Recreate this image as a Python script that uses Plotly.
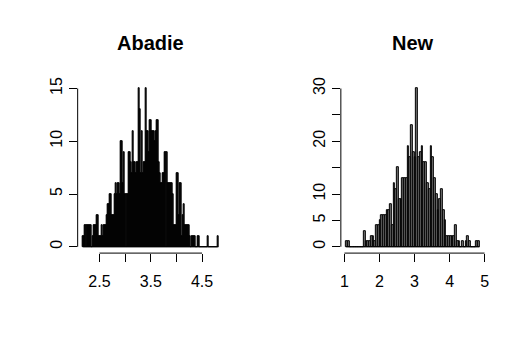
import plotly.graph_objects as go

# ---- data ----
abadie_start = 2.18
abadie_width = 0.02
abadie_counts = [
    1, 1, 2, 2, 2, 2, 2, 2, 0, 1, 2, 2, 2, 3, 3, 1, 1, 1, 2, 1,
    2, 2, 2, 3, 4, 4, 5, 5, 3, 3, 3, 5, 6, 5, 6, 6, 5, 10, 10, 6,
    9, 5, 5, 5, 9, 9, 8, 7, 11, 8, 8, 7, 8, 8, 15, 13, 7, 11, 7, 8,
    8, 15, 11, 11, 9, 12, 12, 11, 11, 11, 10, 11, 12, 12, 8, 7, 6, 6, 7, 7,
    9, 9, 6, 6, 6, 6, 6, 5, 2, 2, 2, 7, 7, 3, 6, 6, 1, 3, 4, 2,
    2, 2, 2, 2, 1, 0, 1, 1, 1, 1, 0, 0, 1, 1, 0, 0, 0, 0, 0, 0,
    0, 1, 0, 0, 0, 0, 0, 0, 0, 0, 0, 1,
]
abadie_ticks = [2.5, 3.0, 3.5, 4.0, 4.5]
abadie_ticklabels = ["2.5", "", "3.5", "", "4.5"]
abadie_yticks = [0, 5, 10, 15]
abadie_yticklabels = ["0", "5", "10", "15"]

new_start = 1.05
new_width = 0.05
new_counts = [
    1, 1, 0, 0, 0, 0, 0, 0, 0, 0,
    3, 1, 1, 1, 2, 2, 1, 4, 4,
    5, 6, 6, 6, 7, 7, 8, 4, 12, 11,
    15, 9, 9, 13, 13, 13, 19, 17, 23, 18,
    17, 30, 17, 18, 19, 16, 16, 12, 11, 19,
    17, 13, 10, 7, 9, 11, 7, 5, 2, 2,
    2, 2, 2, 4, 1, 1, 0, 1, 0, 1,
    2, 1, 0, 0, 0, 1, 1,
]
new_ticks = [1, 2, 3, 4, 5]
new_ticklabels = ["1", "2", "3", "4", "5"]
new_yticks = [0, 5, 10, 15, 20, 25, 30]
new_yticklabels = ["0", "5", "10", "", "20", "", "30"]

titles = ["Abadie", "New"]

FONT = "Liberation Sans, Arial, Helvetica, sans-serif"

def centers(start, width, counts):
    return [start + width * (i + 0.5) for i in range(len(counts))]

def ext(lo, hi):
    d = (hi - lo) * 0.04
    return [lo - d, hi + d]

fig = go.Figure()

panels = [
    (abadie_start, abadie_width, abadie_counts, abadie_ticks, abadie_ticklabels,
     abadie_yticks, abadie_yticklabels, "x", "y", "#111111"),
    (new_start, new_width, new_counts, new_ticks, new_ticklabels,
     new_yticks, new_yticklabels, "x2", "y2", "#777777"),
]

xdomains = [[77.4 / 529, 225.0 / 529], [343.1 / 529, 488.4 / 529]]
ydomain = [(350 - 251.7) / 350, (350 - 78.3) / 350]

shapes = []
annotations = []
for k, (start, width, counts, xt, xtl, yt, ytl, xa, ya, fill) in enumerate(panels):
    fig.add_trace(go.Bar(
        x=centers(start, width, counts), y=counts, width=width,
        marker=dict(color=fill, line=dict(color="black", width=1)),
        xaxis=xa, yaxis=ya, showlegend=False, hoverinfo="skip",
    ))
    lo = start
    hi = start + width * len(counts)
    xr = ext(lo, hi)
    yr = ext(0, max(counts))
    sfx = "" if k == 0 else "2"
    fig.update_layout(**{
        "xaxis" + sfx: dict(
            domain=xdomains[k], range=xr, anchor=ya,
            tickmode="array", tickvals=xt, ticktext=xtl,
            ticks="outside", ticklen=8, tickwidth=1, tickcolor="black",
            showgrid=False, zeroline=False, showline=False,
            tickfont=dict(family=FONT, size=16, color="black"),
            ticklabelstandoff=6,
        ),
        "yaxis" + sfx: dict(
            domain=ydomain, range=yr, anchor=xa,
            tickmode="array", tickvals=yt, ticktext=ytl,
            ticks="outside", ticklen=8, tickwidth=1, tickcolor="black",
            showgrid=False, zeroline=False, showline=False, tickangle=-90,
            tickfont=dict(family=FONT, size=16, color="black"),
            ticklabelstandoff=0,
        ),
    })
    shapes.append(dict(type="line", xref=xa, yref=ya + " domain",
                       x0=xt[0], x1=xt[-1], y0=0, y1=0,
                       line=dict(color="black", width=1)))
    shapes.append(dict(type="line", xref=xa + " domain", yref=ya,
                       x0=0, x1=0, y0=yt[0], y1=yt[-1],
                       line=dict(color="black", width=1)))
    shapes.append(dict(type="line", xref=xa, yref=ya,
                       x0=lo, x1=hi, y0=0, y1=0,
                       line=dict(color="black", width=1)))
    annotations.append(dict(
        text="<b>%s</b>" % titles[k], xref="paper", yref="paper",
        x=(xdomains[k][0] + xdomains[k][1]) / 2, y=(350 - 39) / 350,
        xanchor="center", yanchor="middle", showarrow=False,
        font=dict(family=FONT, size=20, color="black"),
    ))

fig.update_layout(
    width=529, height=350,
    margin=dict(l=0, r=0, t=0, b=0),
    paper_bgcolor="white", plot_bgcolor="white",
    bargap=0, shapes=shapes, annotations=annotations,
    font=dict(family=FONT, color="black"),
)

fig.write_html("out.html", config={"displayModeBar": False},
               post_script="document.body.style.margin='0';")
